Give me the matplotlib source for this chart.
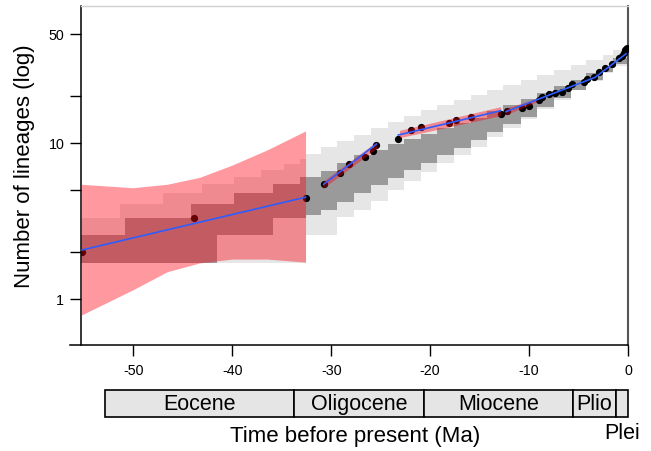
import numpy as np
import matplotlib
matplotlib.use('Agg')
import matplotlib.pyplot as plt
from matplotlib.patches import Rectangle

plt.rcParams['font.family'] = ['Liberation Sans', 'DejaVu Sans']

# simulated LTT envelopes, step bins (Ma)
env_edges = [-55.3, -51.4, -50.9, -47.0, -44.2, -43.1, -41.6, -39.8, -37.1, -35.9, -34.8,
             -33.2, -32.6, -31.0, -29.4, -27.7, -26.0, -24.3, -22.6, -20.9, -19.3, -17.6,
             -15.9, -14.3, -12.6, -10.8, -9.2, -7.5, -5.8, -4.2, -2.5, -1.5, 0.0]
env95_high = [3.32, 4.08, 4.08, 4.80, 4.80, 5.49, 5.49, 6.08, 6.74, 6.74, 7.37, 7.93,
              8.54, 9.47, 10.34, 11.30, 12.53, 13.69, 14.96, 16.35, 17.60, 18.95, 20.39,
              21.96, 23.65, 25.46, 27.40, 29.50, 31.76, 34.20, 36.81, 39.63]
env95_low = [1.71, 1.71, 1.71, 1.71, 1.71, 1.71, 1.71, 1.71, 1.71, 1.71, 1.71, 1.71,
             2.58, 2.58, 3.37, 3.74, 4.27, 5.02, 5.73, 6.55, 7.48, 8.41, 9.47,
             10.97, 12.53, 14.31, 16.59, 18.95, 21.96, 25.08, 28.22, 31.29]
env50_high = [2.58, 2.58, 3.32, 3.32, 4.08, 4.08, 4.08, 4.80, 4.80, 5.49, 5.49, 6.08,
              6.08, 6.64, 7.48, 8.41, 9.06, 9.90, 10.66, 11.47, 12.53, 13.49, 14.53,
              16.11, 17.60, 19.23, 21.01, 23.30, 25.46, 28.22, 31.29, 35.23]
env50_low = [1.71, 1.71, 1.71, 1.71, 1.71, 1.71, 2.58, 2.58, 2.58, 3.32, 3.32, 3.32,
             3.47, 3.74, 4.21, 4.80, 5.40, 5.99, 6.74, 7.48, 8.41, 9.33, 10.50,
             11.81, 13.30, 14.74, 17.09, 19.52, 21.96, 25.46, 28.65, 32.23]

# observed lineages through time
ltt_time = [-55.2, -43.9, -32.6, -30.77, -29.11, -28.18, -26.56, -25.83, -25.48, -23.24,
            -21.90, -20.92, -18.10, -17.42, -15.85, -12.82, -12.22, -10.71, -9.96, -9.02,
            -8.69, -8.01, -7.34, -6.67, -6.07, -5.67, -4.49, -4.15, -3.48, -2.97, -2.30,
            -1.63, -0.96, -0.6, -0.45, -0.35, -0.25, -0.15]
ltt_n = [2.0, 3.31, 4.44, 5.46, 6.42, 7.33, 8.13, 8.97, 9.75, 10.61,
         12.17, 12.72, 13.44, 14.17, 14.81, 15.41, 16.18, 16.91, 17.34, 18.95,
         19.72, 20.70, 21.11, 21.42, 22.52, 23.89, 24.82, 25.72, 26.73, 28.77, 30.26,
         32.23, 35.07, 36.5, 38.0, 39.6, 40.5, 41.0]

# fitted segments and their confidence bands
fit_time = [[-55.2, -32.6], [-30.77, -25.42], [-23.22, -12.88], [-12.35, -3.31, -0.2]]
fit_n = [[2.07, 4.51], [5.46, 9.9], [11.30, 16.18], [15.94, 26.49, 37.5]]
band_time = [[-55.3, -50.05, -46.6, -43.3, -40.0, -36.5, -32.6],
             [-30.87, -25.4], [-23.1, -12.88], [-12.4, -9.2]]
band_low = [[0.79, 1.15, 1.50, 1.71, 1.81, 1.81, 1.73],
            [5.13, 9.28], [10.86, 15.03], [15.18, 18.5]]
band_high = [[5.46, 5.19, 5.46, 6.05, 7.26, 9.06, 12.0],
             [5.68, 10.27], [12.1, 17.17], [16.76, 19.4]]

# geological epochs (as drawn)
epoch_names = ['Eocene', 'Oligocene', 'Miocene', 'Plio', 'Plei']
epoch_start = [-52.87, -33.72, -20.61, -5.60, -1.26]
epoch_end = [-33.72, -20.61, -5.60, -1.26, 0.0]

fig = plt.figure(figsize=(6.51, 4.51), dpi=100)
W, H = 651, 451
ax = fig.add_axes([81 / W, 1 - 345 / H, 547 / W, 339 / H])

def step(vals):
    return list(vals) + [vals[-1]]

ax.fill_between(env_edges, step(env95_low), step(env95_high), step='post',
                color='#e6e6e6', lw=0, zorder=1)
ax.fill_between(env_edges, step(env50_low), step(env50_high), step='post',
                color='#9a9a9a', lw=0, zorder=2)

ax.plot(ltt_time, ltt_n, 'o', color='black', ms=4.2, zorder=3)

for bt, bl, bh in zip(band_time, band_low, band_high):
    ax.fill_between(bt, bl, bh, color=(1.0, 0.0, 0.06), alpha=0.4, lw=0, zorder=4)

for ft, fn in zip(fit_time, fit_n):
    ax.plot(ft, fn, color='#2f5cff', lw=1.2, zorder=5)

ax.set_yscale('log')
ax.set_xlim(-55.3, 0)
ax.set_ylim(0.509, 75.9)
ax.set_yticks([1, 2, 5, 10, 20, 50])
ax.set_yticklabels(['1', '', '', '10', '', '50'])
ax.yaxis.set_minor_locator(matplotlib.ticker.NullLocator())
ax.set_xticks([-50, -40, -30, -20, -10, 0])
ax.set_xticklabels(['-50', '-40', '-30', '-20', '-10', '0'])
ax.tick_params(axis='both', direction='out', length=8, width=1, labelsize=10.3)
ax.tick_params(axis='y', pad=4)
ax.tick_params(axis='x', pad=6)

ax.spines['left'].set_linewidth(1.1)
ax.spines['right'].set_color('#555555')
ax.spines['right'].set_linewidth(1.5)
ax.spines['top'].set_color('#d0d0d0')
ax.spines['top'].set_linewidth(1)
ax.spines['bottom'].set_visible(False)
ax.plot([-11 / 547, 1], [0, 0], transform=ax.transAxes, color='black', lw=1.1,
        clip_on=False, zorder=6)

fig.text(25 / W, 1 - 166 / H, 'Number of lineages (log)', rotation=90,
         ha='center', va='center', fontsize=16)

# geoscale bar
gax = fig.add_axes([81 / W, 1 - 417 / H, 547 / W, 27 / H])
gax.set_xlim(-55.3, 0)
gax.set_ylim(0, 1)
gax.axis('off')
for name, s, e in zip(epoch_names, epoch_start, epoch_end):
    gax.add_patch(Rectangle((s, 0), e - s, 1, facecolor='#e5e5e5', edgecolor='black',
                            lw=1.2, clip_on=False))
    if name == 'Plei':
        gax.text((s + e) / 2, -0.8, name, ha='center', va='baseline', fontsize=15.5)
    else:
        gax.text((s + e) / 2, 0.26, name, ha='center', va='baseline', fontsize=15.5)

fig.text(355 / W, 1 - 442 / H, 'Time before present (Ma)', ha='center', va='baseline',
         fontsize=16)

plt.savefig('out.png', dpi=100)
